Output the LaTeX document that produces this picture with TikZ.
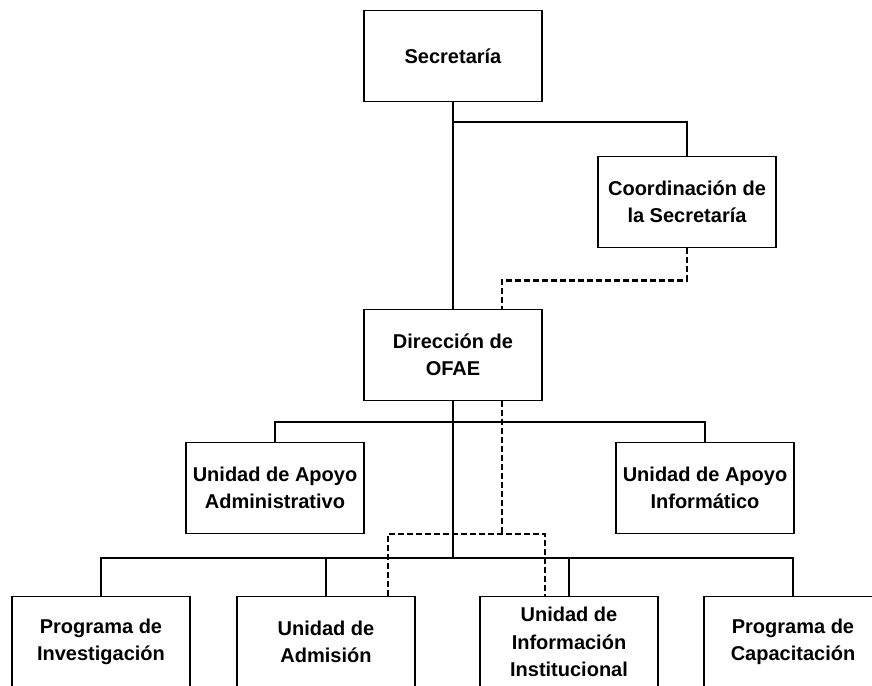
\documentclass[tikz,border=0pt]{standalone}
\usepackage{fontspec}
\setmainfont{Liberation Sans}
\usepackage{tikz}
\usetikzlibrary{positioning, calc}

\begin{document}
\begin{tikzpicture}[
    x=1pt, y=-1pt,
    unit/.style={rectangle, draw, line width=1.8pt, fill=white, minimum width=178pt, minimum height=91pt, align=center, font=\fontsize{20}{27.5}\selectfont\bfseries},
    link/.style={line width=2.4pt},
    dotlink/.style={line width=2.4pt, dash pattern=on 6pt off 3pt}
]
    \clip (0,0) rectangle (872,685);
    \fill[white] (0,0) rectangle (872,685);

    % Secretaria
    \node[unit] (secretaria) at (453, 56) {Secretaría};
    \node[unit] (coordinacion) at (687, 202) {Coordinación de\\la Secretaría};

    % Direccion
    \node[unit] (direccion) at (453, 355) {Dirección de\\OFAE};
    \node[unit] (apoyoadm) at (275, 488) {Unidad de Apoyo\\Administrativo};
    \node[unit] (apoyoinf) at (705, 488) {Unidad de Apoyo\\Informático};

    % Unidades
    \node[unit] (investigacion) at (101, 642) {Programa de\\Investigación};
    \node[unit] (admision) at (326, 642) {Unidad de\\Admisión};
    \node[unit] (informacion) at (569, 642) {Unidad de\\Información\\Institucional};
    \node[unit] (capacitacion) at (793, 642) {Programa de\\Capacitación};

    \coordinate (b1) at (453, 122);
    \coordinate (b2) at (453, 422);
    \coordinate (b3) at (453, 558);
    \coordinate (dj) at (502, 534);

    % solid lines
    \draw[link] (secretaria.south) -- (direccion.north);
    \draw[link] (b1) -| (coordinacion.north);
    \draw[link] (direccion.south) -- (b3);
    \draw[link] (apoyoadm.north) |- (b2) -| (apoyoinf.north);
    \draw[link] (investigacion.north) |- (b3) -| (capacitacion.north);
    \draw[link] (admision.north) -- (admision.north |- b3);
    \draw[link] (informacion.north) -- (informacion.north |- b3);

    % dashed lines
    \draw[dotlink] (coordinacion.south) -- ++(0, 32) -| ([xshift=49pt]direccion.north);
    \draw[dotlink] ([xshift=49pt]direccion.south) -- (dj);
    \draw[dotlink] ([xshift=62pt]admision.north) |- (dj) -| ([xshift=-24pt]informacion.north);
\end{tikzpicture}
\end{document}
